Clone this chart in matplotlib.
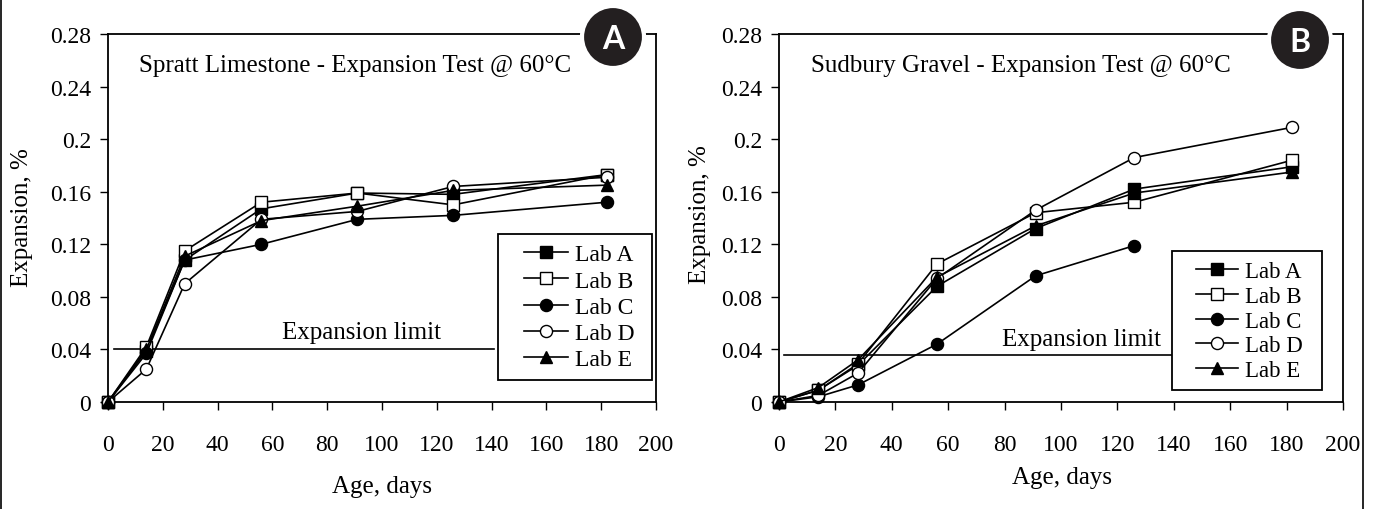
import matplotlib
matplotlib.use("Agg")
import matplotlib.pyplot as plt
from matplotlib.patches import Ellipse, Rectangle
from matplotlib.lines import Line2D

plt.rcParams['font.family'] = ['Liberation Serif', 'DejaVu Serif']

# ---------------- data ----------------
days = [0, 14, 28, 56, 91, 126, 182]
labs = ["Lab A", "Lab B", "Lab C", "Lab D", "Lab E"]

spratt_a = [0, 0.039, 0.108, 0.147, 0.159, 0.158, 0.173]
spratt_b = [0, 0.042, 0.115, 0.152, 0.159, 0.150, 0.173]
spratt_c = [0, 0.037, 0.108, 0.120, 0.139, 0.142, 0.152]
spratt_d = [0, 0.025, 0.090, 0.139, 0.145, 0.164, 0.171]
spratt_e = [0, 0.040, 0.111, 0.138, 0.149, 0.161, 0.165]

sudbury_days_c = [0, 14, 28, 56, 91, 126]
sudbury_a = [0, 0.009, 0.028, 0.088, 0.132, 0.162, 0.179]
sudbury_b = [0, 0.009, 0.029, 0.105, 0.144, 0.152, 0.184]
sudbury_c = [0, 0.004, 0.013, 0.044, 0.096, 0.119]
sudbury_d = [0, 0.005, 0.022, 0.094, 0.146, 0.186, 0.209]
sudbury_e = [0, 0.011, 0.032, 0.095, 0.134, 0.159, 0.175]

limit_a = 0.040
limit_b = 0.036

xticks = [0, 20, 40, 60, 80, 100, 120, 140, 160, 180, 200]
yticks = [0, 0.04, 0.08, 0.12, 0.16, 0.2, 0.24, 0.28]
ytick_labels = ["0", "0.04", "0.08", "0.12", "0.16", "0.2", "0.24", "0.28"]

titles = ["Spratt Limestone - Expansion Test @ 60°C",
          "Sudbury Gravel - Expansion Test @ 60°C"]

# ---------------- figure ----------------
W, H = 1373, 510
fig = plt.figure(figsize=(W / 100, H / 100), dpi=100)

def fx(px):
    return px / W

def fy(py):
    return 1 - py / H

styles = [
    dict(marker='s', mfc='black'),
    dict(marker='s', mfc='white'),
    dict(marker='o', mfc='black'),
    dict(marker='o', mfc='white'),
    dict(marker='^', mfc='black'),
]

FS = 17
FS_T = 18

def make_panel(box_px, series, limit, limit_x, limit_text_xy, title,
               leg_box_px, leg_anchor_px, legfs, labelspacing):
    x0, y0, x1, y1 = box_px
    ax = fig.add_axes([fx(x0), fy(y1), fx(x1) - fx(x0), fy(y0) - fy(y1)])
    for (xs, ys), lab, st in zip(series, labs, styles):
        ax.plot(xs, ys, color='black', lw=1.2, marker=st['marker'], mfc=st['mfc'],
                mec='black', mew=1.0, ms=8.7, label=lab, clip_on=False, zorder=3)
    ax.plot(limit_x, [limit, limit], color='black', lw=1.2, zorder=2)
    ax.text(limit_text_xy[0], limit_text_xy[1], "Expansion limit", fontsize=FS_T,
            ha='center', va='center')
    ax.set_xlim(0, 200)
    ax.set_ylim(0, 0.28)
    ax.set_xticks(xticks)
    ax.set_xticklabels([str(t) for t in xticks])
    ax.set_yticks(yticks)
    ax.set_yticklabels(ytick_labels)
    ax.tick_params(direction='out', length=6, width=1.0, labelsize=FS, color='black')
    ax.tick_params(axis='x', pad=17)
    ax.tick_params(axis='y', pad=6)
    for s in ax.spines.values():
        s.set_linewidth(1.3)
        s.set_color('black')
    ax.text(0.057, 0.916, title, transform=ax.transAxes, fontsize=FS_T, ha='left', va='center')

    # legend frame drawn manually
    lx0, ly0, lx1, ly1 = leg_box_px
    rect = Rectangle((fx(lx0), fy(ly1)), fx(lx1) - fx(lx0), fy(ly0) - fy(ly1),
                     transform=fig.transFigure, facecolor='white', edgecolor='black',
                     lw=1.3, zorder=4, clip_on=False)
    ax.add_patch(rect)
    ax_px_w = x1 - x0
    ax_px_h = y1 - y0
    ancx = (leg_anchor_px[0] - x0) / ax_px_w
    ancy = (y1 - leg_anchor_px[1]) / ax_px_h
    leg = ax.legend(loc='center left', bbox_to_anchor=(ancx, ancy), frameon=False,
                    fontsize=legfs, handlelength=1.85, handletextpad=0.3,
                    labelspacing=labelspacing, borderpad=0.0, borderaxespad=0.0)
    leg.set_zorder(5)
    return ax

axA = make_panel((108, 35, 656, 403),
                 [(days, spratt_a), (days, spratt_b), (days, spratt_c),
                  (days, spratt_d), (days, spratt_e)],
                 limit_a, [2.2, 140.8], (92.5, 0.053), titles[0],
                 (498, 235, 652, 381), (524, 308), FS, 0.2)

axB = make_panel((779, 35, 1343, 403),
                 [(days, sudbury_a), (days, sudbury_b), (sudbury_days_c, sudbury_c),
                  (days, sudbury_d), (days, sudbury_e)],
                 limit_b, [1.8, 140.0], (107.3, 0.048), titles[1],
                 (1172, 252, 1322, 391), (1196, 322), 16.5, 0.16)

# axis labels
fig.text(fx(22), fy(218), "Expansion, %", rotation=90, fontsize=FS_T, ha='center', va='center')
fig.text(fx(700), fy(215), "Expansion, %", rotation=90, fontsize=FS_T, ha='center', va='center')
fig.text(fx(382), fy(487), "Age, days", fontsize=FS_T, ha='center', va='center')
fig.text(fx(1062), fy(478), "Age, days", fontsize=FS_T, ha='center', va='center')

# badges
for (cx, cy, letter) in [(613, 38, "A"), (1300, 41, "B")]:
    e = Ellipse((fx(cx), fy(cy)), width=62 / W, height=62 / H, transform=fig.transFigure,
                facecolor='#231f20', edgecolor='white', lw=3, zorder=10)
    fig.add_artist(e)
    fig.text(fx(cx), fy(cy + 2), letter, color='white', fontsize=23, fontweight='bold',
             family='Lato', ha='center', va='center', zorder=11)

# outer frame lines
fig.add_artist(Line2D([fx(1), fx(1)], [0, 1], transform=fig.transFigure, color='black', lw=1.2))
fig.add_artist(Line2D([fx(1363), fx(1363)], [0, 1], transform=fig.transFigure, color='black', lw=1.2))

fig.savefig("out.png", dpi=100)
